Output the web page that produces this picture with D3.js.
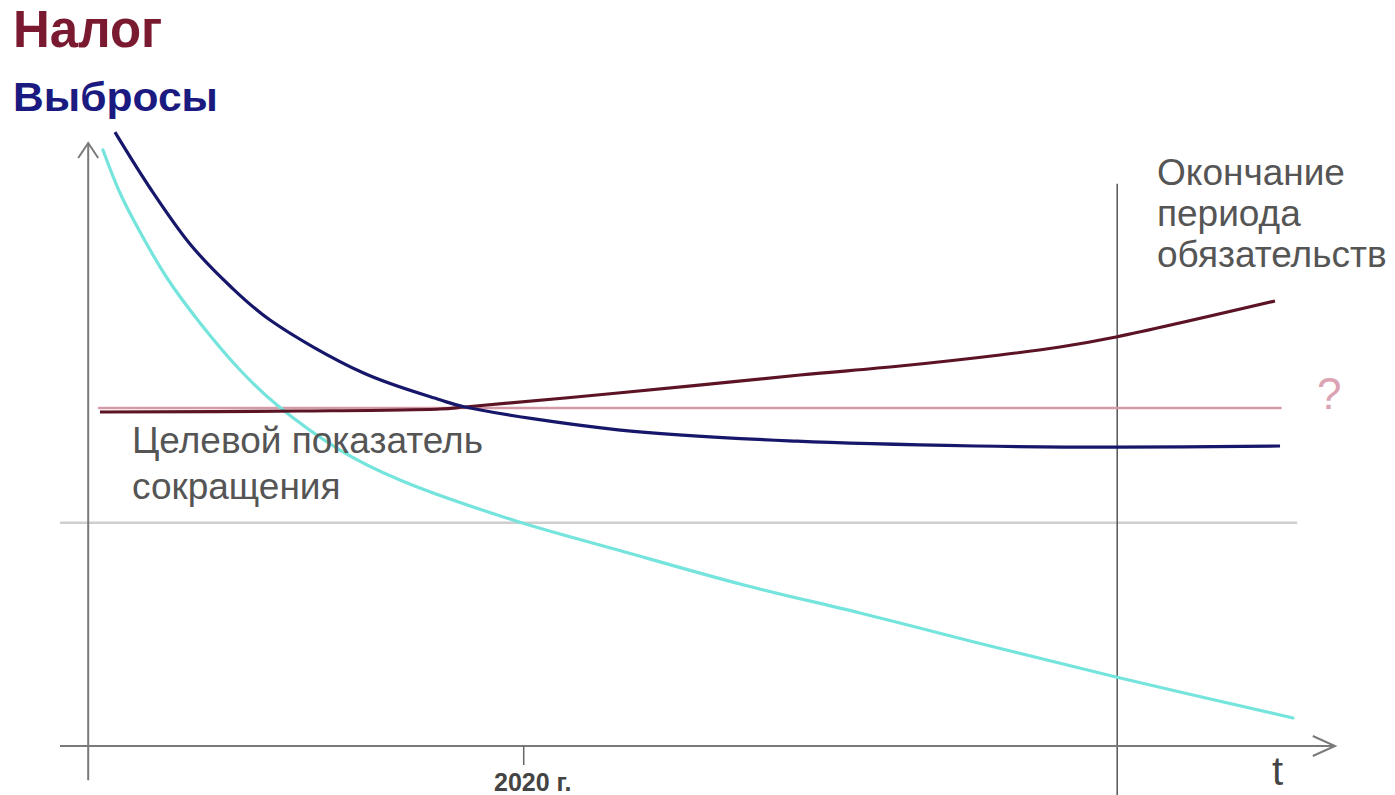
<!DOCTYPE html>
<html>
<head>
<meta charset="utf-8">
<script src="https://cdn.jsdelivr.net/npm/d3@7"></script>
<style>
  body { margin: 0; background: #fff; }
  svg { display: block; font-family: Arial, "Liberation Sans", sans-serif; }
</style>
</head>
<body>
<svg width="1395" height="795"></svg>
<script>
// t: arbitrary time units, v: arbitrary level units
const tickVals = [36.1]
const tickLabels = ['2020 г.']

const emissionsT = [2.08, 5, 8.33, 11.67, 15, 22.75, 29.17, 31.25, 44, 58.92, 73.83, 85.5, 99.17]
const emissionsV = [102.3, 93, 83.67, 76.67, 71, 62.2, 57.7, 56.5, 52.7, 50.8, 50, 49.8, 50]

const fastT = [1.08, 2.5, 4.17, 6.42, 9.17, 12.5, 15.58, 20.83, 25.83, 35.5, 44, 54.5, 64.17, 73.67, 85.5, 100.25]
const fastV = [99.33, 92.17, 85.67, 78, 70.5, 62.67, 56.83, 49.33, 44.33, 37.5, 32.67, 26.83, 22.17, 17.33, 11.5, 4.67]

const taxT = [0.83, 17.5, 29.17, 31.25, 44, 59.17, 67.5, 75.83, 80.83, 85.5, 98.75]
const taxV = [55.67, 55.83, 56.17, 56.5, 58.83, 61.83, 63.33, 65.17, 66.5, 68.17, 74.17]

const targetT = [0.67, 99.3]
const targetV = [56.33, 56.33]

const baseT = [-2.5, 100.6]
const baseV = [37.2, 37.2]

const endT = 85.6
const endV = [93.7, -8.3]

const svg = d3.select('svg')

let xScale = d3.scaleLinear().domain([0, 100]).range([90, 1290])
let yScale = d3.scaleLinear().domain([0, 100]).range([746, 146])

const line = d3.line()
	.x(d => xScale(d[0]))
	.y(d => yScale(d[1]))
	.curve(d3.curveCatmullRom.alpha(0.5))

const straight = d3.line()
	.x(d => xScale(d[0]))
	.y(d => yScale(d[1]))

const pairs = (ts, vs) => ts.map((t, i) => [t, vs[i]])

// grey reference line
svg.append('path')
	.attr('d', straight(pairs(baseT, baseV)))
	.attr('stroke', '#cfcfcf').attr('stroke-width', 2.5).attr('fill', 'none')

// end of commitment period
svg.append('line')
	.attr('x1', xScale(endT)).attr('x2', xScale(endT))
	.attr('y1', yScale(endV[0])).attr('y2', yScale(endV[1]))
	.attr('stroke', '#555').attr('stroke-width', 1.5)

// axes
const axisColor = '#7a7a7a'
svg.append('line')
	.attr('x1', xScale(-2.5)).attr('x2', xScale(103.75))
	.attr('y1', yScale(0)).attr('y2', yScale(0))
	.attr('stroke', axisColor).attr('stroke-width', 2)
svg.append('path')
	.attr('d', `M${xScale(101.9)},${yScale(0) - 10} L${xScale(103.75)},${yScale(0)} L${xScale(101.9)},${yScale(0) + 10}`)
	.attr('stroke', axisColor).attr('stroke-width', 2).attr('fill', 'none')

svg.append('line')
	.attr('x1', xScale(-0.15)).attr('x2', xScale(-0.15))
	.attr('y1', yScale(-5.7)).attr('y2', yScale(100.5))
	.attr('stroke', axisColor).attr('stroke-width', 2)
svg.append('path')
	.attr('d', `M${xScale(-0.15) - 10},${yScale(98)} L${xScale(-0.15)},${yScale(100.5)} L${xScale(-0.15) + 10},${yScale(98)}`)
	.attr('stroke', axisColor).attr('stroke-width', 2).attr('fill', 'none')

let bottomAxisG = svg.append('g')
	.attr('transform', `translate(0, ${yScale(0)})`)
bottomAxisG.call(d3.axisBottom(xScale)
	.tickValues(tickVals)
	.tickFormat((d, i) => tickLabels[i])
	.tickSize(19)
	.tickPadding(8))
bottomAxisG.select('.domain').remove()
bottomAxisG.selectAll('.tick line').attr('stroke', '#666').attr('stroke-width', 1.5)
bottomAxisG.selectAll('.tick text')
	.attr('font-size', 25).attr('font-weight', 'bold').attr('fill', '#444')
	.attr('font-family', 'Arial, "Liberation Sans", sans-serif')
	.attr('dx', 9)

// target line
svg.append('path')
	.attr('d', straight(pairs(targetT, targetV)))
	.attr('stroke', '#d59aa8').attr('stroke-width', 2.5).attr('fill', 'none')

// curves
svg.append('path')
	.attr('d', line(pairs(fastT, fastV)))
	.attr('stroke', '#74e4dc').attr('stroke-width', 3.2).attr('fill', 'none')
	.attr('stroke-linecap', 'round')

svg.append('path')
	.attr('d', line(pairs(taxT, taxV)))
	.attr('stroke', '#5c1424').attr('stroke-width', 3.2).attr('fill', 'none')

svg.append('path')
	.attr('d', line(pairs(emissionsT, emissionsV)))
	.attr('stroke', '#16166a').attr('stroke-width', 3.2).attr('fill', 'none')

// titles
svg.append('text').attr('x', 13).attr('y', 47)
	.attr('font-size', 51).attr('font-weight', 'bold').attr('fill', '#7a1a30')
	.text('Налог')
svg.append('text').attr('x', 13).attr('y', 111)
	.attr('font-size', 40).attr('font-weight', 'bold').attr('fill', '#1a1a80')
	.attr('textLength', 205).attr('lengthAdjust', 'spacingAndGlyphs')
	.text('Выбросы')

// annotations
const grayText = '#555'
const endLines = ['Окончание', 'периода', 'обязательств']
svg.append('text')
	.attr('font-size', 37).attr('fill', grayText)
	.selectAll('tspan').data(endLines).join('tspan')
	.attr('x', 1157).attr('y', (d, i) => 185 + i * 41)
	.text(d => d)

const targetLines = ['Целевой показатель', 'сокращения']
svg.append('text')
	.attr('font-size', 37).attr('fill', grayText)
	.selectAll('tspan').data(targetLines).join('tspan')
	.attr('x', 132).attr('y', (d, i) => 453 + i * 46)
	.text(d => d)

svg.append('text').attr('x', 1317).attr('y', 409)
	.attr('font-size', 44).attr('fill', '#dba3b3')
	.text('?')

svg.append('text').attr('x', 1272).attr('y', 785)
	.attr('font-size', 40).attr('fill', '#444')
	.text('t')
</script>
</body>
</html>
